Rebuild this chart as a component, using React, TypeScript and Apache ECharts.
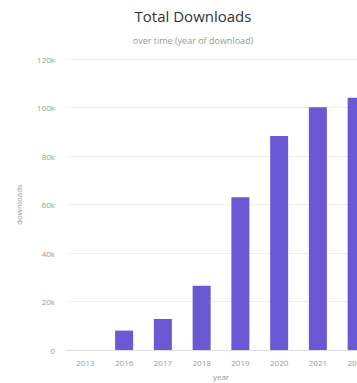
import React, { useEffect, useRef } from "react";
import * as echarts from "echarts";

const categories = ["2013", "2016", "2017", "2018", "2019", "2020", "2021", "2022"];
const downloads = [0, 8000, 12800, 26500, 63000, 88200, 100100, 104000];
const yTicks = { min: 0, max: 120000, interval: 20000 };

export default function App() {
  const ref = useRef<HTMLDivElement>(null);
  useEffect(() => {
    if (!ref.current) return;
    const chart = echarts.init(ref.current, null, { renderer: "svg" });
    chart.setOption({
      animation: false,
      textStyle: { fontFamily: "'Open Sans', 'Noto Sans', sans-serif" },
      title: {
        text: "Total Downloads",
        subtext: "over time (year of download)",
        left: "center",
        top: 3,
        itemGap: 13,
        textStyle: { fontSize: 15, fontWeight: "normal", color: "#333" },
        subtextStyle: { fontSize: 9, color: "#999" },
      },
      grid: { left: 66, right: 10, top: 59, bottom: 33, outerBoundsMode: "none", containLabel: false },
      xAxis: {
        type: "category",
        data: categories,
        name: "year",
        nameLocation: "middle",
        nameGap: 22,
        nameTextStyle: { fontSize: 8, color: "#999" },
        axisLine: { lineStyle: { color: "#ddd" } },
        axisTick: { show: false },
        axisLabel: { fontSize: 8, color: "#999", margin: 8 },
      },
      yAxis: {
        type: "value",
        min: yTicks.min,
        max: yTicks.max,
        interval: yTicks.interval,
        name: "downloads",
        nameLocation: "middle",
        nameGap: 44,
        nameTextStyle: { fontSize: 8, color: "#999" },
        axisLine: { show: false },
        axisTick: { show: false },
        axisLabel: {
          fontSize: 8,
          color: "#999",
          margin: 11,
          formatter: (v: number) => (v === 0 ? "0" : v / 1000 + "k"),
        },
        splitLine: { lineStyle: { color: "#eee" } },
      },
      series: [
        {
          type: "bar",
          data: downloads,
          barWidth: 18,
          itemStyle: { color: "#6a58d4" },
        },
      ],
    });
    return () => chart.dispose();
  }, []);
  return (
    <div style={{ position: "fixed", left: 0, top: 0, width: 357, height: 383, overflow: "hidden", background: "#fff" }}>
      <div ref={ref} style={{ width: 386, height: 383 }} />
    </div>
  );
}
